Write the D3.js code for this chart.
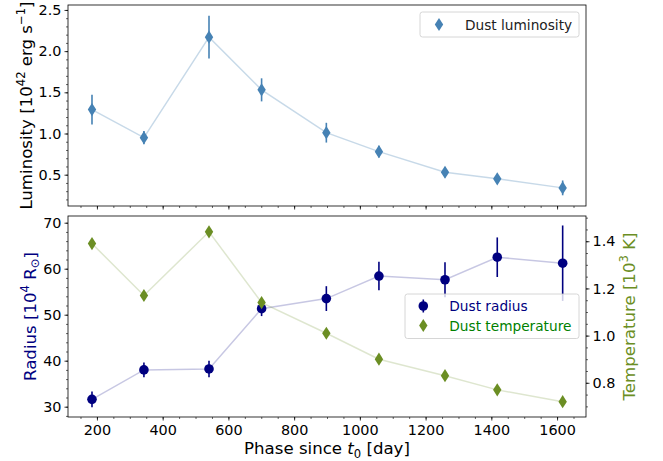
<!DOCTYPE html>
<html>
<head>
<meta charset="utf-8">
<script src="https://cdn.jsdelivr.net/npm/d3@7"></script>
<style>
    body { margin: 0; background: #fff; }
    svg { display: block; }
    text { font-family: "DejaVu Sans", sans-serif; }
</style>
</head>
<body>
<svg id="svg"></svg>
<script>
// values
const phase = [185, 343, 541, 701, 898, 1058, 1259, 1418, 1617];
const luminosity = [1.29, 0.95, 2.17, 1.53, 1.01, 0.78, 0.53, 0.45, 0.34];
const luminosityErr = [0.18, 0.08, 0.26, 0.14, 0.12, 0.07, 0.06, 0.05, 0.09];
const radius = [31.6, 38.0, 38.2, 51.3, 53.5, 58.4, 57.6, 62.5, 61.2];
const radiusErr = [1.7, 1.6, 1.8, 1.6, 2.7, 3.1, 3.8, 4.3, 8.2];
const temperature = [1.39, 1.17, 1.44, 1.14, 1.01, 0.90, 0.83, 0.77, 0.72];

const xTicks = [200, 400, 600, 800, 1000, 1200, 1400, 1600];
const lumTicks = [0.5, 1.0, 1.5, 2.0, 2.5];
const radTicks = [30, 40, 50, 60, 70];
const tempTicks = [0.8, 1.0, 1.2, 1.4];

const width = 663;
const height = 461;
const left = 68, right = 586;
const topPanel = { top: 5, bottom: 206 };
const botPanel = { top: 216, bottom: 417 };

let svg = d3.select("#svg").attr("width", width).attr("height", height);

const xScale = d3.scaleLinear().domain([112, 1688]).range([left, right]);
const yLum = d3.scaleLinear().domain([0.12, 2.56]).range([topPanel.bottom, topPanel.top]);
const yRad = d3.scaleLinear().domain([27.76, 71.46]).range([botPanel.bottom, botPanel.top]);
const yTemp = d3.scaleLinear().domain([0.655, 1.507]).range([botPanel.bottom, botPanel.top]);

const fontTick = 14.4;
const fontLabel = 16.6;
const fontLegend = 13.7;

function minorValues(scale, step) {
    let [a, b] = scale.domain();
    let out = [];
    for (let v = Math.ceil(a / step) * step; v <= b; v += step) out.push(+v.toFixed(4));
    return out;
}

function drawAxis(axisFn, scale, major, step, fmt, transform) {
    let g = svg.append("g").attr("transform", transform);
    g.append("g")
        .call(axisFn(scale).tickValues(minorValues(scale, step)).tickSize(2).tickFormat(""))
        .call(s => s.select(".domain").remove())
        .selectAll("line").attr("stroke", "#000").attr("stroke-width", 0.6);
    let ax = g.append("g")
        .call(axisFn(scale).tickValues(major).tickSize(3.5).tickPadding(3).tickFormat(fmt))
        .call(s => s.select(".domain").remove());
    ax.selectAll("line").attr("stroke", "#000").attr("stroke-width", 0.8);
    ax.selectAll("text")
        .attr("fill", "#000")
        .style("font-family", "DejaVu Sans")
        .style("font-size", fontTick + "px");
    return ax;
}

function diamond(cx, cy) {
    const hw = 4.2, hh = 6.6;
    return `M${cx},${cy - hh}L${cx + hw},${cy}L${cx},${cy + hh}L${cx - hw},${cy}Z`;
}

// label with superscripts / subscripts
function richText(sel, parts) {
    let shift = 0;
    parts.forEach(p => {
        let t = sel.append("tspan").text(p.t);
        let target = 0;
        if (p.sup) target = -0.42;
        if (p.sub) target = 0.22;
        if (p.sup || p.sub) t.attr("font-size", "70%");
        let size = (p.sup || p.sub) ? 0.7 : 1;
        let dyEm = (target - shift) / size;
        if (dyEm !== 0) t.attr("dy", dyEm.toFixed(3) + "em");
        if (p.it) t.attr("font-style", "italic");
        shift = target;
    });
}

// ---------- top panel: luminosity ----------
svg.append("path")
    .datum(phase)
    .attr("fill", "none")
    .attr("stroke", "steelblue")
    .attr("stroke-opacity", 0.3)
    .attr("stroke-width", 1.5)
    .attr("d", d3.line().x(d => xScale(d)).y((d, i) => yLum(luminosity[i])));

svg.append("g").selectAll("line")
    .data(phase)
    .join("line")
    .attr("x1", d => xScale(d)).attr("x2", d => xScale(d))
    .attr("y1", (d, i) => yLum(luminosity[i] - luminosityErr[i]))
    .attr("y2", (d, i) => yLum(luminosity[i] + luminosityErr[i]))
    .attr("stroke", "steelblue")
    .attr("stroke-width", 1.6);

svg.append("g").selectAll("path")
    .data(phase)
    .join("path")
    .attr("d", (d, i) => diamond(xScale(d), yLum(luminosity[i])))
    .attr("fill", "steelblue");

drawAxis(d3.axisBottom, xScale, xTicks, 50, "", `translate(0,${topPanel.bottom})`);
drawAxis(d3.axisLeft, yLum, lumTicks, 0.1, d3.format(".1f"), `translate(${left},0)`);

svg.append("rect")
    .attr("x", left).attr("y", topPanel.top)
    .attr("width", right - left).attr("height", topPanel.bottom - topPanel.top)
    .attr("fill", "none").attr("stroke", "#000").attr("stroke-width", 0.8);

// top legend
let leg1 = svg.append("g");
leg1.append("rect")
    .attr("x", 420).attr("y", 12).attr("width", 159).attr("height", 25).attr("rx", 2.5)
    .attr("fill", "#fff").attr("fill-opacity", 0.8)
    .attr("stroke", "#cccccc").attr("stroke-width", 0.8);
leg1.append("path").attr("d", diamond(439, 24.5)).attr("fill", "steelblue");
leg1.append("text")
    .attr("x", 465).attr("y", 24.5).attr("dominant-baseline", "central")
    .style("font-size", fontLegend + "px").attr("fill", "#222")
    .text("Dust luminosity");

// top y label
let lumLabel = svg.append("text")
    .attr("transform", `translate(32.3,${(topPanel.top + topPanel.bottom) / 2}) rotate(-90)`)
    .attr("text-anchor", "middle")
    .style("font-size", fontLabel + "px")
    .attr("fill", "#000");
richText(lumLabel, [
    { t: "Luminosity [10" }, { t: "42", sup: true }, { t: " erg s" },
    { t: "\u22121", sup: true }, { t: "]" }
]);

// ---------- bottom panel: radius + temperature ----------
svg.append("path")
    .datum(phase)
    .attr("fill", "none")
    .attr("stroke", "navy")
    .attr("stroke-opacity", 0.22)
    .attr("stroke-width", 1.5)
    .attr("d", d3.line().x(d => xScale(d)).y((d, i) => yRad(radius[i])));

svg.append("g").selectAll("line")
    .data(phase)
    .join("line")
    .attr("x1", d => xScale(d)).attr("x2", d => xScale(d))
    .attr("y1", (d, i) => yRad(radius[i] - radiusErr[i]))
    .attr("y2", (d, i) => yRad(radius[i] + radiusErr[i]))
    .attr("stroke", "navy")
    .attr("stroke-width", 1.6);

svg.append("g").selectAll("circle")
    .data(phase)
    .join("circle")
    .attr("cx", d => xScale(d))
    .attr("cy", (d, i) => yRad(radius[i]))
    .attr("r", 4.8)
    .attr("fill", "navy");

svg.append("path")
    .datum(phase)
    .attr("fill", "none")
    .attr("stroke", "olivedrab")
    .attr("stroke-opacity", 0.22)
    .attr("stroke-width", 1.5)
    .attr("d", d3.line().x(d => xScale(d)).y((d, i) => yTemp(temperature[i])));

svg.append("g").selectAll("path")
    .data(phase)
    .join("path")
    .attr("d", (d, i) => diamond(xScale(d), yTemp(temperature[i])))
    .attr("fill", "olivedrab");

let xAx = drawAxis(d3.axisBottom, xScale, xTicks, 50, d3.format("d"), `translate(0,${botPanel.bottom})`);
xAx.selectAll("text").attr("y", 8);
drawAxis(d3.axisLeft, yRad, radTicks, 2, d3.format("d"), `translate(${left},0)`);
drawAxis(d3.axisRight, yTemp, tempTicks, 0.05, d3.format(".1f"), `translate(${right},0)`);

svg.append("rect")
    .attr("x", left).attr("y", botPanel.top)
    .attr("width", right - left).attr("height", botPanel.bottom - botPanel.top)
    .attr("fill", "none").attr("stroke", "#000").attr("stroke-width", 0.8);

// bottom legend
let leg2 = svg.append("g");
leg2.append("rect")
    .attr("x", 405).attr("y", 294).attr("width", 174).attr("height", 44.5).attr("rx", 2.5)
    .attr("fill", "#fff").attr("fill-opacity", 0.8)
    .attr("stroke", "#cccccc").attr("stroke-width", 0.8);
leg2.append("line")
    .attr("x1", 423.3).attr("x2", 423.3).attr("y1", 299.5).attr("y2", 312.5)
    .attr("stroke", "navy").attr("stroke-width", 1.6);
leg2.append("circle").attr("cx", 423.3).attr("cy", 306).attr("r", 4.8).attr("fill", "navy");
leg2.append("path").attr("d", diamond(423.3, 325.5)).attr("fill", "olivedrab");
leg2.append("text")
    .attr("x", 449.3).attr("y", 306).attr("dominant-baseline", "central")
    .style("font-size", fontLegend + "px").attr("fill", "navy")
    .text("Dust radius");
leg2.append("text")
    .attr("x", 449.3).attr("y", 325.5).attr("dominant-baseline", "central")
    .style("font-size", fontLegend + "px").attr("fill", "green")
    .text("Dust temperature");

// bottom labels
let radLabel = svg.append("text")
    .attr("transform", `translate(35.7,${(botPanel.top + botPanel.bottom) / 2}) rotate(-90)`)
    .attr("text-anchor", "middle")
    .style("font-size", fontLabel + "px")
    .attr("fill", "navy");
richText(radLabel, [
    { t: "Radius [10" }, { t: "4", sup: true }, { t: " R" }, { t: "\u2299", sub: true }, { t: "]" }
]);

let tempLabel = svg.append("text")
    .attr("transform", `translate(635,${(botPanel.top + botPanel.bottom) / 2}) rotate(-90)`)
    .attr("text-anchor", "middle")
    .style("font-size", fontLabel + "px")
    .attr("fill", "olivedrab");
richText(tempLabel, [
    { t: "Temperature [10" }, { t: "3", sup: true }, { t: " K]" }
]);

let xLabel = svg.append("text")
    .attr("x", (left + right) / 2).attr("y", 454)
    .attr("text-anchor", "middle")
    .style("font-size", fontLabel + "px")
    .attr("fill", "#000");
richText(xLabel, [
    { t: "Phase since " }, { t: "t", it: true }, { t: "0", sub: true }, { t: " [day]" }
]);
</script>
</body>
</html>
